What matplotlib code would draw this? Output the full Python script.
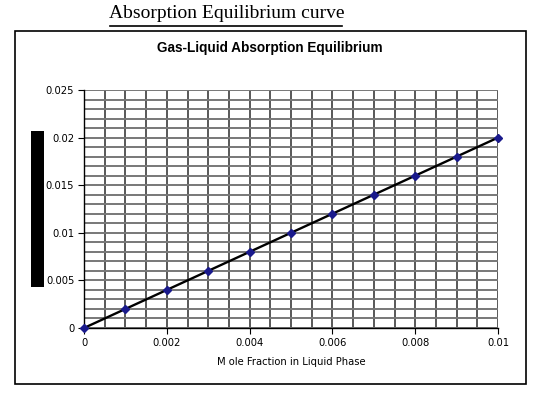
import matplotlib.pyplot as plt
import matplotlib.patches as patches
import numpy as np

# Equilibrium data
x_liquid = [0.0, 0.001, 0.002, 0.003, 0.004, 0.005, 0.006, 0.007, 0.008, 0.009, 0.010]
y_gas = [0.0, 0.002, 0.004, 0.006, 0.008, 0.010, 0.012, 0.014, 0.016, 0.018, 0.020]

x_ticks = [0, 0.002, 0.004, 0.006, 0.008, 0.01]
x_ticklabels = ['0', '0.002', '0.004', '0.006', '0.008', '0.01']
y_ticks = [0, 0.005, 0.01, 0.015, 0.02, 0.025]
y_ticklabels = ['0', '0.005', '0.01', '0.015', '0.02', '0.025']

fig = plt.figure(figsize=(5.37, 3.94), dpi=100)

# Page heading above the chart box
fig.text(0.423, 0.966, 'Absorption Equilibrium curve', family='Liberation Serif',
         fontsize=14, ha='center', va='center')
fig.add_artist(plt.Line2D([0.205, 0.637], [0.934, 0.934], color='black', lw=1.2))

# Outer chart border
fig.add_artist(patches.Rectangle((0.028, 0.025), 0.952, 0.897, fill=False,
                                 edgecolor='black', lw=1.2, transform=fig.transFigure))

# Redacted y-axis label bar
fig.add_artist(patches.Rectangle((31 / 537, 1 - 287 / 394), 13 / 537, 156 / 394,
                                 facecolor='black', edgecolor='none', transform=fig.transFigure))

fig.text(0.503, 0.878, 'Gas-Liquid Absorption Equilibrium', family='Liberation Sans',
         fontsize=9.8, fontweight='bold', ha='center', va='center')

ax = fig.add_axes([84 / 537, 1 - 328 / 394, 414 / 537, 238 / 394])

# Grid: verticals every 0.0005, horizontals every 0.001
for xv in np.arange(0, 0.01001, 0.0005):
    ax.axvline(xv, color='#3c3c3c', lw=1.2, zorder=1)
for yv in np.arange(0, 0.02501, 0.001):
    ax.axhline(yv, color='#787878', lw=1.4, zorder=1)

ax.plot(x_liquid, y_gas, color='black', lw=1.7, zorder=3, clip_on=False)
ax.plot(x_liquid, y_gas, linestyle='none', marker='D', markersize=3.8,
        color='#1a1a8c', zorder=4, clip_on=False)

ax.set_xlim(0, 0.01)
ax.set_ylim(0, 0.025)
ax.set_xticks(x_ticks)
ax.set_xticklabels(x_ticklabels)
ax.set_yticks(y_ticks)
ax.set_yticklabels(y_ticklabels)
ax.tick_params(labelsize=7.2, length=4, width=0.8, pad=3)
for side in ['top', 'right']:
    ax.spines[side].set_visible(False)
for side in ['left', 'bottom']:
    ax.spines[side].set_linewidth(1.0)

ax.set_xlabel('M ole Fraction in Liquid Phase', fontsize=7.2, labelpad=7)

fig.savefig('out.png', dpi=100)
